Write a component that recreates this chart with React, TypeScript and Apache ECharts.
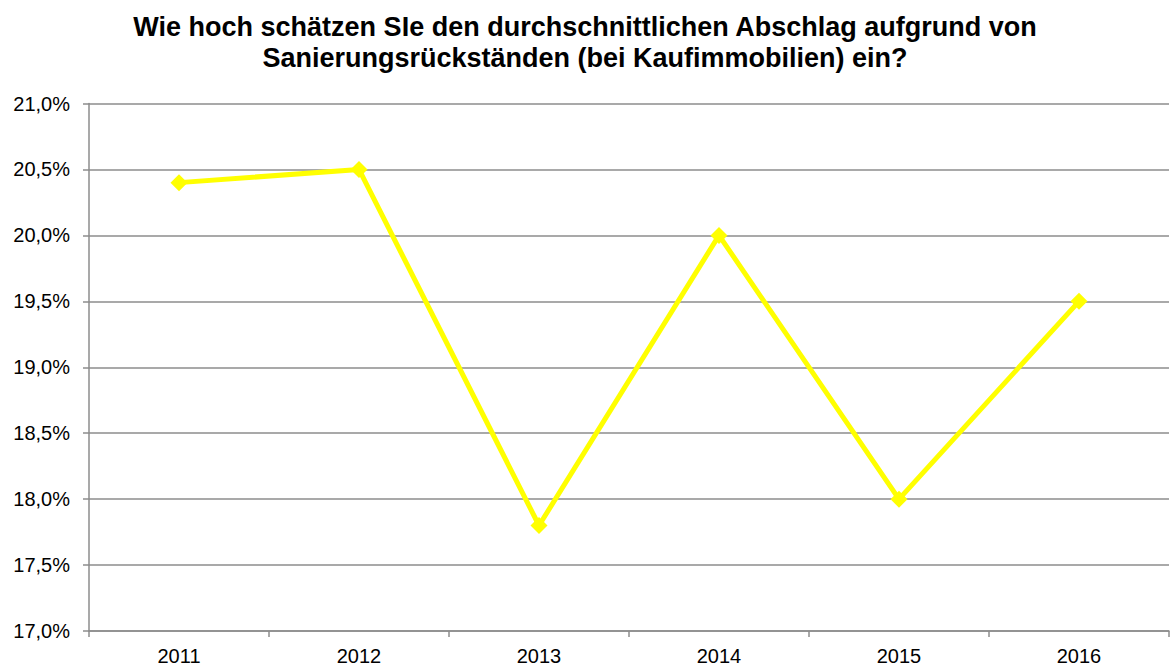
import React, { useEffect, useRef } from "react";
import * as echarts from "echarts";

const titleLines = [
  "Wie hoch schätzen SIe den durchschnittlichen Abschlag aufgrund von",
  "Sanierungsrückständen (bei Kaufimmobilien) ein?",
];
const years = ["2011", "2012", "2013", "2014", "2015", "2016"];
const values = [20.4, 20.5, 17.8, 20.0, 18.0, 19.5];
const yMin = 17;
const yMax = 21;
const yStep = 0.5;

export default function App() {
  const ref = useRef<HTMLDivElement>(null);
  useEffect(() => {
    if (!ref.current) return;
    const chart = echarts.init(ref.current, undefined, { renderer: "svg" });
    const font = "'Liberation Sans', Arial, sans-serif";
    chart.setOption({
      animation: false,
      backgroundColor: "#ffffff",
      title: {
        text: titleLines.join("\n"),
        left: "center",
        top: 6,
        textStyle: {
          fontFamily: font,
          fontWeight: "bold",
          fontSize: 27,
          lineHeight: 31.6,
          color: "#000",
        },
      },
      grid: { left: 89, right: 1, top: 103.5, bottom: 40 },
      xAxis: {
        type: "category",
        data: years,
        boundaryGap: true,
        axisLine: { lineStyle: { color: "#8c8c8c", width: 1.5 } },
        axisTick: { show: true, length: 6, lineStyle: { color: "#8c8c8c", width: 1.5 } },
        axisLabel: { fontFamily: font, fontSize: 20, color: "#000", margin: 15 },
        splitLine: { show: false },
      },
      yAxis: {
        type: "value",
        min: yMin,
        max: yMax,
        interval: yStep,
        axisLine: { show: true, lineStyle: { color: "#8c8c8c", width: 1.5 } },
        axisTick: { show: true, length: 6, lineStyle: { color: "#8c8c8c", width: 1.5 } },
        axisLabel: {
          fontFamily: font,
          fontSize: 20,
          color: "#000",
          margin: 19,
          formatter: (v: number) => v.toFixed(1).replace(".", ",") + "%",
        },
        splitLine: { show: true, lineStyle: { color: "#8c8c8c", width: 1.5 } },
      },
      series: [
        {
          type: "line",
          data: values,
          lineStyle: { color: "#ffff00", width: 5 },
          itemStyle: { color: "#ffff00" },
          symbol: "diamond",
          symbolSize: 17,
          showSymbol: true,
        },
      ],
    });
    return () => chart.dispose();
  }, []);
  return (
    <div
      ref={ref}
      style={{ position: "fixed", left: 0, top: 0, width: 1170, height: 671 }}
    />
  );
}
